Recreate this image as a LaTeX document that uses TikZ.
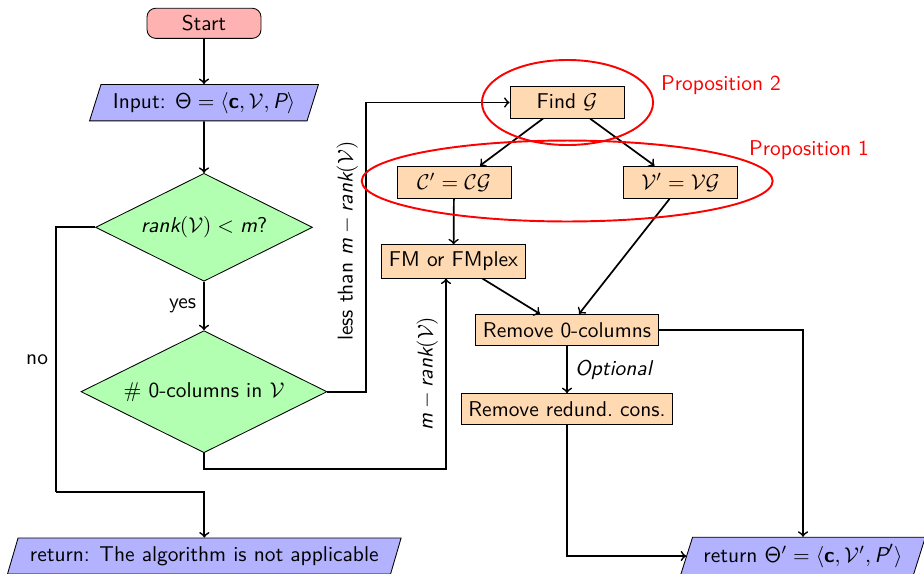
\documentclass[tikz,border=0pt]{standalone}
\usetikzlibrary{shapes.geometric,calc}
\newcommand\sit[1]{\mbox{\itshape #1}}
\newcommand\sbfc[1]{\mbox{\bfseries #1}}
\newcommand\sTheta{\mathsf{\Theta}}
\begin{document}
\begin{tikzpicture}[x=0.467pt,y=-0.467pt,font=\sffamily,
  startstop/.style={rectangle, rounded corners=4pt, draw, fill=red!30, minimum width=53.2pt, minimum height=14pt},
  io/.style={trapezium, trapezium left angle=73, trapezium right angle=107, trapezium stretches=true, draw, fill=blue!30, minimum height=17pt},
  decision/.style={diamond, aspect=2, draw, fill=green!30, inner sep=0pt},
  proc/.style={rectangle, draw, fill=orange!30, minimum height=14.6pt},
  fixw/.style={minimum width=53.2pt},
  conn/.style={thick},
  arr/.style={thick,->},
  ring/.style={ellipse, draw=red, line width=0.9pt, inner sep=0pt},
  proplabel/.style={text=red}]
\useasboundingbox (0,0) rectangle (924,573);

% nodes
\node[startstop] (start) at (204,23.3) {Start};
\node[io, minimum width=107pt] (input) at (204,102.7) {Input: $\sTheta = \langle \sbfc{c}, \mathcal{V}, \sit{P}\rangle$};
\node[decision, minimum width=101.3pt, minimum height=50.4pt] (d1) at (204,227.3) {$\sit{rank}(\mathcal{V}) < \sit{m}$?};
\node[decision, minimum width=114.9pt, minimum height=57pt] (d2) at (204,391.7) {$\#$ 0-columns in $\mathcal{V}$};
\node[io, minimum width=184.3pt, minimum height=16.8pt] (ret1) at (204.3,556) {return: The algorithm is not applicable};

\node[proc, fixw] (findG) at (567,102.5) {Find $\mathcal{G}$};
\node[proc, fixw] (Cp) at (454,182.3) {$\mathcal{C}' = \mathcal{C}\mathcal{G}$};
\node[proc, fixw] (Vp) at (680.5,182.3) {$\mathcal{V}' = \mathcal{V}\mathcal{G}$};
\node[proc] (FM) at (453.5,261.5) {FM or FMplex};
\node[proc] (rem) at (567,330) {Remove 0-columns};
\node[proc] (red) at (567,409.2) {Remove redund.\ cons.};
\node[io, minimum width=114.4pt, minimum height=16.8pt] (ret2) at (803,556) {return $\sTheta' = \langle \sbfc{c}, \mathcal{V}', \sit{P}'\rangle$};

% helper coordinates
\coordinate (noA) at (56,492.3);
\coordinate (lt) at (366,102.5);
\coordinate (mr) at (446,468.7);

% connectors
\draw[arr] (start) -- (input);
\draw[arr] (input) -- (d1);
\draw[arr] (d1) -- node[left] (yes) {yes} (d2);
\draw[conn] (d1.west) -| node[pos=0.75,left] (no) {no} (noA);
\draw[arr] (noA) -| (ret1);
\draw[arr] (d2.east) -| node[pos=0.76,sloped,above] (ltlab) {less than $\sit{m} - \sit{rank}(\mathcal{V})$} (lt) -- (findG.west);
\draw[arr] (d2.south) |- (mr) -- node[pos=0.5,sloped,above] (mrlab) {$\sit{m} - \sit{rank}(\mathcal{V})$} (mr |- FM.south);
\draw[arr] ($(findG.south)+(-24,0)$) -- ($(Cp.north)+(26,0)$);
\draw[arr] ($(findG.south)+(23,0)$) -- ($(Vp.north)+(-26,0)$);
\draw[arr] (Cp) -- (FM);
\draw[arr] ($(Vp.south)+(-11,0)$) -- ($(rem.north)+(12,0)$);
\draw[arr] ($(FM.south)+(29,0)$) -- ($(rem.north)+(-27,0)$);
\draw[arr] (rem) -- node[right] (opt) {\textit{Optional}} (red);
\draw[arr] (rem.east) -| (ret2);
\draw[arr] (red.south) |- (ret2);

% proposition rings
\node[ring, minimum width=79.9pt, minimum height=39.7pt] (e2) at (567.5,102.5) {};
\node[ring, minimum width=191.9pt, minimum height=37.8pt] (e1) at (567.2,181) {};
\node[proplabel] (p2) at (721,85) {Proposition 2};
\node[proplabel] (p1) at (809,150) {Proposition 1};
\end{tikzpicture}
\end{document}
